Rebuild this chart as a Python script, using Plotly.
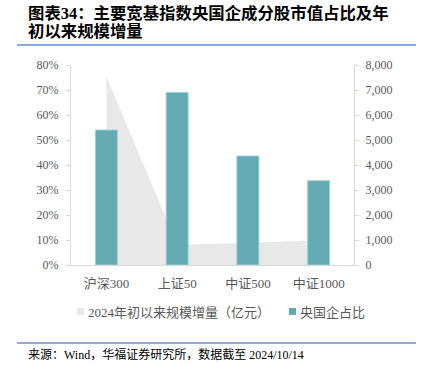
import plotly.graph_objects as go

categories = ["沪深300", "上证50", "中证500", "中证1000"]
scale_increase = [7540, 810, 880, 1000]      # 2024年初以来规模增量（亿元）
soe_share = [0.54, 0.69, 0.436, 0.337]       # 央国企占比

title_lines = ["图表34：主要宽基指数央国企成分股市值占比及年", "初以来规模增量"]
legend_labels = ["2024年初以来规模增量（亿元）", "央国企占比"]
source_text = "来源：Wind，华福证券研究所，数据截至 2024/10/14"

AREA_C = "#e8e8e8"
BAR_C = "#64aab3"
AX_C = "#d9d9d9"
TXT_C = "#595959"
FONT = "Liberation Serif, Times New Roman, Noto Sans CJK SC"

# plot area pixels
L, R, T, B = 71, 68, 65, 107
W, H = 422, 372
PW, PH = W - L - R, H - T - B

def px(x):
    return (x - L) / PW

def py(y):
    return (H - B - y) / PH

fig = go.Figure()
fig.add_trace(go.Scatter(
    x=categories, y=scale_increase, mode="none", fill="tozeroy",
    fillcolor=AREA_C, name=legend_labels[0], yaxis="y", showlegend=False,
    hoverinfo="skip",
))
fig.add_trace(go.Bar(
    x=categories, y=soe_share, name=legend_labels[1], yaxis="y2",
    marker=dict(color=BAR_C, line=dict(color="#9ccfd5", width=1)),
    width=0.31, showlegend=False,
))

fig.update_layout(
    width=W, height=H,
    margin=dict(l=L, r=R, t=T, b=B),
    paper_bgcolor="white", plot_bgcolor="white",
    font=dict(family=FONT, color=TXT_C, size=12),
    xaxis=dict(
        type="category", range=[-0.5, 3.5], showgrid=False,
        showline=True, linecolor=AX_C, linewidth=1, ticks="",
        tickfont=dict(size=13, color=TXT_C), fixedrange=True,
        ticklabelstandoff=6,
    ),
    yaxis=dict(
        side="right", range=[0, 8000], dtick=1000, tickformat=",",
        showgrid=False, zeroline=False, showline=True, linecolor=AX_C,
        ticks="outside", ticklen=4, tickcolor=AX_C,
        tickfont=dict(size=12, color=TXT_C), ticklabelstandoff=4,
    ),
    yaxis2=dict(
        overlaying="y", side="left", range=[0, 0.8], dtick=0.1,
        tickformat=".0%", showgrid=False, zeroline=False, showline=True,
        linecolor=AX_C, ticks="outside", ticklen=4, tickcolor=AX_C,
        tickfont=dict(size=12, color=TXT_C), ticklabelstandoff=5,
    ),
    showlegend=False,
)

ann = []
shapes = []
# title
ann.append(dict(xref="paper", yref="paper", x=px(26), y=py(13), xanchor="left",
                yanchor="middle", showarrow=False, text="<b>" + title_lines[0] + "</b>",
                font=dict(size=16.4, color="black", family=FONT)))
ann.append(dict(xref="paper", yref="paper", x=px(26), y=py(31), xanchor="left",
                yanchor="middle", showarrow=False, text="<b>" + title_lines[1] + "</b>",
                font=dict(size=16.4, color="black", family=FONT)))
shapes.append(dict(type="line", xref="paper", yref="paper", x0=px(17), x1=px(416),
                   y0=py(45), y1=py(45), line=dict(color="#8eaad6", width=2)))
# legend
shapes.append(dict(type="rect", xref="paper", yref="paper", x0=px(77), x1=px(84),
                   y0=py(308), y1=py(315), fillcolor=AREA_C, line=dict(width=0)))
ann.append(dict(xref="paper", yref="paper", x=px(86), y=py(312), xanchor="left",
                yanchor="middle", showarrow=False, text=legend_labels[0],
                font=dict(size=13, color=TXT_C)))
shapes.append(dict(type="rect", xref="paper", yref="paper", x0=px(289), x1=px(296),
                   y0=py(308), y1=py(315), fillcolor=BAR_C, line=dict(width=0)))
ann.append(dict(xref="paper", yref="paper", x=px(298), y=py(312), xanchor="left",
                yanchor="middle", showarrow=False, text=legend_labels[1],
                font=dict(size=13, color=TXT_C)))
# source
shapes.append(dict(type="line", xref="paper", yref="paper", x0=px(17), x1=px(416),
                   y0=py(343), y1=py(343), line=dict(color="#8eaad6", width=2)))
ann.append(dict(xref="paper", yref="paper", x=px(26), y=py(354), xanchor="left",
                yanchor="middle", showarrow=False, text=source_text,
                font=dict(size=12, color="black")))

fig.update_layout(annotations=ann, shapes=shapes)
fig.write_html(
    "out.html",
    config={"displayModeBar": False},
    post_script="document.body.style.margin='0';document.body.style.padding='0';",
)
